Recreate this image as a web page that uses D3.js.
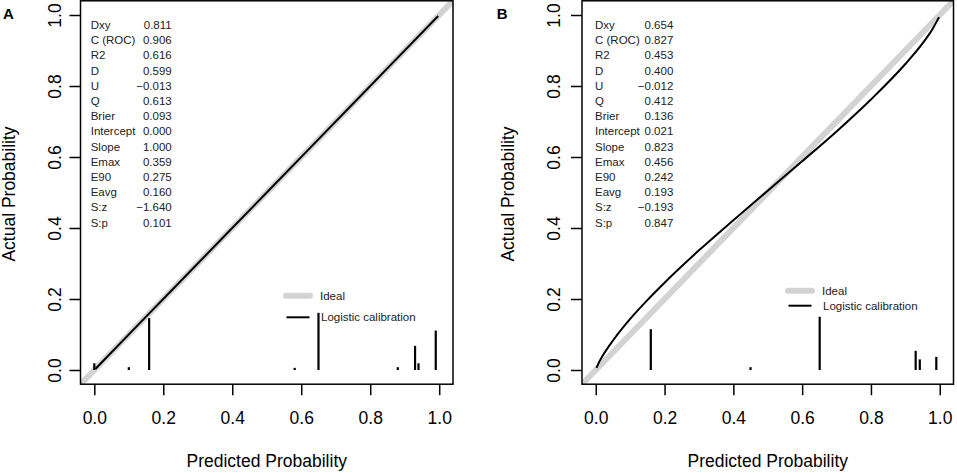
<!DOCTYPE html>
<html lang="en">
<head>
<meta charset="UTF-8">
<title>Calibration plots</title>
<script src="https://d3js.org/d3.v7.min.js"></script>
<style>
  body { margin: 0; background: #fff; }
  svg { font-family: "Liberation Sans", Arial, sans-serif; }
</style>
</head>
<body>
<div id="chart"></div>
<script>
// axis ticks
const ticks = [0, 0.2, 0.4, 0.6, 0.8, 1.0];

// statistics printed in the top left of each panel
const statNames = ["Dxy", "C (ROC)", "R2", "D", "U", "Q", "Brier", "Intercept",
                   "Slope", "Emax", "E90", "Eavg", "S:z", "S:p"];
const statsA = [0.811, 0.906, 0.616, 0.599, -0.013, 0.613, 0.093, 0.000,
                1.000, 0.359, 0.275, 0.160, -1.640, 0.101];
const statsB = [0.654, 0.827, 0.453, 0.400, -0.012, 0.412, 0.136, 0.021,
                0.823, 0.456, 0.242, 0.193, -0.193, 0.847];

// logistic calibration curves (predicted -> actual)
const curveAx = [0.003, 0.25, 0.5, 0.75, 0.997];
const curveAy = [0.003, 0.25, 0.5, 0.75, 0.997];
const curveBx = [0.002, 0.01, 0.02, 0.05, 0.1, 0.15, 0.2, 0.3, 0.4, 0.5,
                 0.6, 0.7, 0.8, 0.9, 0.95, 0.98, 0.998];
const curveBy = [0.006, 0.023, 0.040, 0.083, 0.144, 0.197, 0.246, 0.337, 0.422, 0.505,
                 0.588, 0.672, 0.762, 0.862, 0.920, 0.962, 0.994];

// spikes of the predicted probability distribution
const spikesAx = [0.0, 0.10, 0.159, 0.581, 0.65, 0.88, 0.93, 0.94, 0.99];
const spikesAh = [0.019, 0.008, 0.146, 0.006, 0.161, 0.008, 0.068, 0.019, 0.111];
const spikesBx = [0.16, 0.45, 0.651, 0.93, 0.942, 0.99];
const spikesBh = [0.115, 0.008, 0.150, 0.054, 0.030, 0.037];

const width = 957, height = 473;
const svg = d3.select('#chart').append('svg')
    .attr('width', width)
    .attr('height', height);

const fmt = d3.format('.3f');

function drawPanel(p) {
    const x = d3.scaleLinear().domain([-0.04, 1.04]).range([p.left, p.right]);
    const y = d3.scaleLinear().domain([-0.04, 1.04]).range([384.2, 0.8]);
    const g = svg.append('g');

    g.append('clipPath').attr('id', 'clip' + p.name)
      .append('rect')
        .attr('x', p.left).attr('y', 0.8)
        .attr('width', p.right - p.left).attr('height', 384.2 - 0.8);

    // ideal line
    g.append('line')
        .attr('clip-path', `url(#clip${p.name})`)
        .attr('x1', x(-0.04)).attr('y1', y(-0.04))
        .attr('x2', x(1.04)).attr('y2', y(1.04))
        .attr('stroke', '#d3d3d3').attr('stroke-width', 6);

    // calibration curve
    g.append('path')
        .datum(d3.zip(p.cx, p.cy))
        .attr('fill', 'none')
        .attr('stroke', '#000')
        .attr('stroke-width', 2)
        .attr('d', d3.line().curve(d3.curveMonotoneX)
            .x(d => x(d[0])).y(d => y(d[1])));

    // spikes
    g.selectAll('line.spike')
        .data(d3.zip(p.sx, p.sh))
        .enter().append('line')
        .attr('class', 'spike')
        .attr('x1', d => x(d[0])).attr('x2', d => x(d[0]))
        .attr('y1', y(0)).attr('y2', d => y(d[1]))
        .attr('stroke', '#000').attr('stroke-width', 2.2);

    // box
    g.append('rect')
        .attr('x', p.left).attr('y', 0.8)
        .attr('width', p.right - p.left).attr('height', 384.2 - 0.8)
        .attr('fill', 'none').attr('stroke', '#000').attr('stroke-width', 1.5);

    // x axis
    g.append('g')
        .attr('transform', 'translate(0,384.2)')
        .call(d3.axisBottom(x).tickValues(ticks).tickSize(11).tickFormat(d3.format('.1f')))
        .call(a => a.select('.domain').remove())
        .call(a => a.selectAll('line').attr('stroke-width', 1.5))
        .call(a => a.selectAll('text')
            .attr('y', 40).attr('dy', null)
            .attr('font-size', 17.5).attr('fill', '#000'));

    // y axis
    g.append('g')
        .attr('transform', `translate(${p.left},0)`)
        .call(d3.axisLeft(y).tickValues(ticks).tickSize(11).tickFormat(d3.format('.1f')))
        .call(a => a.select('.domain').remove())
        .call(a => a.selectAll('line').attr('stroke-width', 1.5))
        .call(a => a.selectAll('text')
            .attr('x', 0).attr('y', 0).attr('dy', null)
            .attr('text-anchor', 'middle')
            .attr('transform', `translate(${-p.tickGap},0) rotate(-90)`)
            .attr('font-size', 17.5).attr('fill', '#000'));

    // axis titles
    g.append('text')
        .attr('x', (p.left + p.right) / 2).attr('y', 467)
        .attr('text-anchor', 'middle').attr('font-size', 17.5)
        .text('Predicted Probability');
    g.append('text')
        .attr('transform', `translate(${p.left - p.titleGap},194) rotate(-90)`)
        .attr('text-anchor', 'middle').attr('font-size', 17.5)
        .text('Actual Probability');

    // panel letter
    g.append('text')
        .attr('x', p.letterX).attr('y', 18.5)
        .attr('font-size', 15).attr('font-weight', 'bold')
        .text(p.name);

    // statistics
    const st = g.append('g').attr('font-size', 11.5).attr('fill', '#222');
    statNames.forEach((s, i) => {
        const by = 29 + i * 15.2;
        st.append('text').attr('x', p.statX).attr('y', by).text(s);
        st.append('text').attr('x', p.valX).attr('y', by)
            .attr('text-anchor', 'end').text(fmt(p.stats[i]));
    });

    // legend
    const lg = g.append('g').attr('font-size', 11.5).attr('fill', '#222');
    lg.append('line')
        .attr('x1', p.legX + 2).attr('x2', p.legX + 26)
        .attr('y1', p.legY).attr('y2', p.legY)
        .attr('stroke', '#d3d3d3').attr('stroke-width', 6)
        .attr('stroke-linecap', 'round');
    lg.append('text').attr('x', p.legX + 36).attr('y', p.legY + 4.3).text('Ideal');
    lg.append('line')
        .attr('x1', p.legX + 2.5).attr('x2', p.legX + 25.5)
        .attr('y1', p.legY + p.legGap).attr('y2', p.legY + p.legGap)
        .attr('stroke', '#000').attr('stroke-width', 2);
    lg.append('text').attr('x', p.legX + 37).attr('y', p.legY + p.legGap + 4)
        .text('Logistic calibration');
}

drawPanel({
    name: 'A', left: 80.5, right: 453, tickGap: 20, titleGap: 66, letterX: 3,
    stats: statsA, statX: 90.7, valX: 171.7,
    cx: curveAx, cy: curveAy, sx: spikesAx, sh: spikesAh,
    legX: 284, legY: 295.7, legGap: 21.6
});
drawPanel({
    name: 'B', left: 582, right: 953.5, tickGap: 22, titleGap: 68, letterX: 496.7,
    stats: statsB, statX: 595, valX: 673.3,
    cx: curveBx, cy: curveBy, sx: spikesBx, sh: spikesBh,
    legX: 786, legY: 290.7, legGap: 15
});
</script>
</body>
</html>
